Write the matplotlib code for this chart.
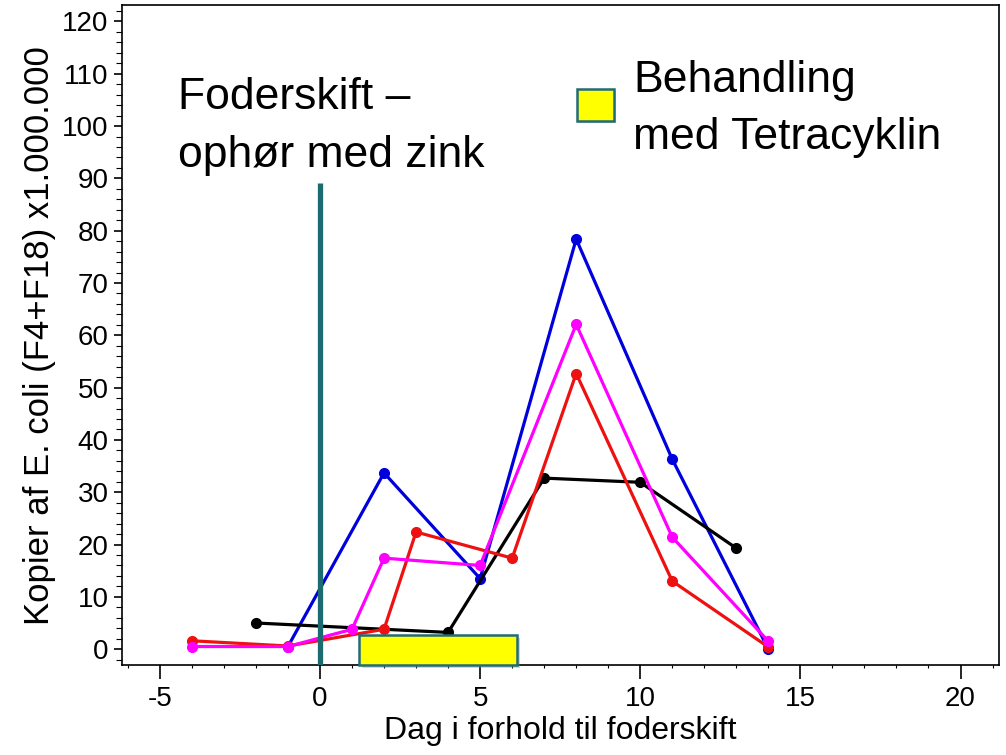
import numpy as np
import matplotlib.pyplot as plt
from matplotlib.patches import Rectangle
from matplotlib.ticker import MultipleLocator

# Data (dag i forhold til foderskift, kopier x 1.000.000)
blue_x = [-1, 2, 5, 8, 11, 14]
blue_y = [0.5, 33.7, 13.5, 78.4, 36.3, 0.0]

magenta_x = [-4, -1, 1, 2, 5, 8, 11, 14]
magenta_y = [0.5, 0.5, 3.8, 17.4, 16.0, 62.1, 21.4, 1.5]

red_x = [-4, -1, 2, 3, 6, 8, 11, 14]
red_y = [1.6, 0.6, 3.8, 22.4, 17.4, 52.7, 13.0, 0.4]

black_x = [-2, 4, 7, 10, 13]
black_y = [5.0, 3.2, 32.7, 31.9, 19.3]

switch_day = 0
switch_top = 89.2
treat_start, treat_end = 1.22, 6.16
treat_top = 2.7

plt.rcParams['font.family'] = ['Liberation Sans', 'DejaVu Sans']
plt.rcParams['axes.unicode_minus'] = False

fig = plt.figure(figsize=(10.06, 7.55), dpi=100)
ax = fig.add_axes([0.121, 0.119, 0.872, 0.874])

lw = 2.3
ms = 7
ax.plot(black_x, black_y, '-o', color='black', lw=lw, ms=ms, zorder=3)
ax.plot(red_x, red_y, '-o', color='#ee1111', lw=lw, ms=ms, zorder=4)
ax.plot(magenta_x, magenta_y, '-o', color='#ff00ff', lw=lw, ms=ms, zorder=5)
ax.plot(blue_x, blue_y, '-o', color='#0000dd', lw=lw, ms=ms, zorder=2)

ylo, yhi = -3.06, 123.1
ax.set_xlim(-6.19, 21.2)
ax.set_ylim(ylo, yhi)

# foderskift-linje
ax.plot([switch_day, switch_day], [ylo, switch_top], color='#1b6b70', lw=3.8,
        solid_capstyle='butt', zorder=7)

# behandlingsperiode
ax.add_patch(Rectangle((treat_start + 0.08, ylo - 0.5), treat_end - treat_start,
                       treat_top - ylo, facecolor='#888888', alpha=0.35,
                       edgecolor='none', zorder=6, clip_on=False))
ax.add_patch(Rectangle((treat_start, ylo), treat_end - treat_start, treat_top - ylo,
                       facecolor='#ffff00', edgecolor='#1f6b78', lw=1.8, zorder=8,
                       clip_on=False))

ax.xaxis.set_major_locator(MultipleLocator(5))
ax.xaxis.set_minor_locator(MultipleLocator(1))
ax.yaxis.set_major_locator(MultipleLocator(10))
ax.yaxis.set_minor_locator(MultipleLocator(2))
ax.set_yticks(np.arange(0, 121, 10))
ax.tick_params(which='both', direction='out', top=False, right=False,
               labelsize=20, width=1.2)
ax.tick_params(axis='x', which='major', length=10, pad=5)
ax.tick_params(axis='x', which='minor', length=2.5, width=0.8)
ax.tick_params(axis='y', which='major', length=6)
ax.tick_params(axis='y', which='minor', length=4, width=0.8)
for s in ax.spines.values():
    s.set_linewidth(1.2)

ax.set_xlabel('Dag i forhold til foderskift', fontsize=23, labelpad=3)
ax.set_ylabel('Kopier af E. coli (F4+F18) x1.000.000', fontsize=25, labelpad=4)

# tekster
fig.text(178 / 1006, 1 - 77 / 755, 'Foderskift –\nophør med zink',
         fontsize=32, va='top', ha='left', linespacing=1.52)
fig.text(633 / 1006, 1 - 60 / 755, 'Behandling\nmed Tetracyklin',
         fontsize=32, va='top', ha='left', linespacing=1.5)

fig.patches.append(Rectangle((579 / 1006, 1 - 123 / 755), 37 / 1006, 32 / 755,
                             transform=fig.transFigure, facecolor='#888888',
                             alpha=0.35, edgecolor='none'))
fig.patches.append(Rectangle((577 / 1006, 1 - 121 / 755), 37 / 1006, 32 / 755,
                             transform=fig.transFigure, facecolor='#ffff00',
                             edgecolor='#1f6b78', lw=1.8))

fig.savefig('out.png', dpi=100)
